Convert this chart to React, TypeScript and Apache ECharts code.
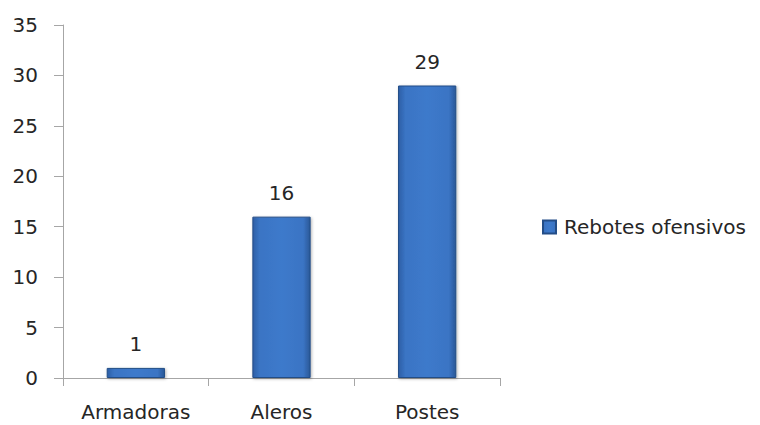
import React, { useEffect, useRef } from "react";
import * as echarts from "echarts";

const categories = ["Armadoras", "Aleros", "Postes"];
const values = [1, 16, 29];
const seriesName = "Rebotes ofensivos";
const yMin = 0;
const yMax = 35;
const yInterval = 5;

export default function App() {
  const ref = useRef<HTMLDivElement>(null);
  useEffect(() => {
    if (!ref.current) return;
    const chart = echarts.init(ref.current, undefined, { renderer: "svg" });
    const font = "'DejaVu Sans', 'Noto Sans', sans-serif";
    const fs = 20;
    const barColor = new echarts.graphic.LinearGradient(0, 0, 1, 0, [
      { offset: 0, color: "#2d5fa6" },
      { offset: 0.12, color: "#3a74c4" },
      { offset: 0.5, color: "#3d7acb" },
      { offset: 0.88, color: "#3a74c4" },
      { offset: 1, color: "#2a5897" },
    ]);
    chart.setOption({
      animation: false,
      backgroundColor: "#ffffff",
      grid: { left: 63, top: 25, right: 260, bottom: 47, containLabel: false },
      legend: {
        data: [seriesName],
        orient: "vertical",
        left: 537,
        top: 212,
        itemWidth: 13,
        itemHeight: 13,
        itemGap: 8,
        icon: "rect",
        textStyle: { fontFamily: font, fontSize: fs, color: "#262626", padding: [0, 0, 0, 3] },
      },
      xAxis: {
        type: "category",
        data: categories,
        axisLine: { lineStyle: { color: "#a6a6a6", width: 1 } },
        axisTick: { show: true, length: 8, alignWithLabel: false, lineStyle: { color: "#a6a6a6" } },
        axisLabel: { fontFamily: font, fontSize: fs, color: "#262626", margin: 24 },
        splitLine: { show: false },
      },
      yAxis: {
        type: "value",
        min: yMin,
        max: yMax,
        interval: yInterval,
        axisLine: { show: true, lineStyle: { color: "#a6a6a6", width: 1 } },
        axisTick: { show: true, length: 9, lineStyle: { color: "#a6a6a6" } },
        axisLabel: { fontFamily: font, fontSize: fs, color: "#262626", margin: 25 },
        splitLine: { show: false },
      },
      series: [
        {
          name: seriesName,
          type: "bar",
          data: values,
          barWidth: "40%",
          itemStyle: {
            color: barColor,
            borderColor: "#234d87",
            borderWidth: 1,
            shadowColor: "rgba(0,0,0,0.3)",
            shadowBlur: 3,
            shadowOffsetX: 1,
            shadowOffsetY: 1,
          },
          label: {
            show: true,
            position: "top",
            distance: 14,
            fontFamily: font,
            fontSize: fs,
            color: "#262626",
          },
        },
      ],
    });
    return () => chart.dispose();
  }, []);
  return <div ref={ref} style={{ width: 760, height: 425, position: "absolute", left: 0, top: 0 }} />;
}
